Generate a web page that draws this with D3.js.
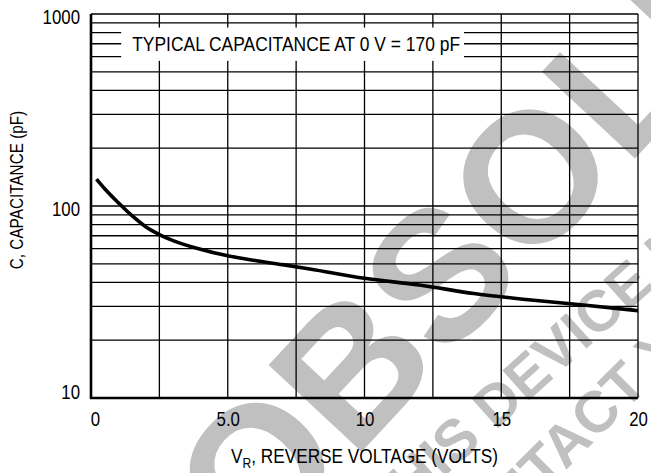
<!DOCTYPE html>
<html>
<head>
<meta charset="utf-8">
<script src="https://cdn.jsdelivr.net/npm/d3@7"></script>
<style>
    body { margin: 0; background: #ffffff; }
    svg { display: block; }
    text { font-family: "Liberation Sans", Arial, sans-serif; fill: #000; }
</style>
</head>
<body>
<svg class="chart"></svg>
<script>
// reverse voltage (V) and capacitance (pF)
var voltage = [0.2, 0.5, 1, 1.5, 2, 2.5, 3, 4, 5, 6, 7, 8, 10, 12, 14, 16, 18, 20];
var capacitance = [138, 123, 104, 89, 78, 71, 66, 59.5, 55, 52, 49.5, 47, 42, 38.8, 35, 32.5, 30.5, 28.5];

var xTicks = [0, 5, 10, 15, 20];
var xTickLabels = ["0", "5.0", "10", "15", "20"];
var xGrid = [0, 2.5, 5, 7.5, 10, 12.5, 15, 17.5, 20];
var yTicks = [10, 100, 1000];
var yTickLabels = ["10", "100", "1000"];

var note = "TYPICAL CAPACITANCE AT 0 V = 170 pF";
var watermark = ["OBSOLETE", "THIS DEVICE IS NOT RECOMMENDED", "CONTACT YOUR SALES OFFICE"];

var outerSize = {width: 651, height: 473};
var margin = {top: 14, right: 13, bottom: 75, left: 91};
var innerSize = {width: outerSize.width - margin.left - margin.right,
    height: outerSize.height - margin.top - margin.bottom};

// squeeze Liberation Sans into a condensed look
function condense(selection, factor) {
    selection.each(function () {
        var len = this.getComputedTextLength();
        d3.select(this)
                .attr("textLength", len * factor)
                .attr("lengthAdjust", "spacingAndGlyphs");
    });
}

var svg = d3.select(".chart")
        .attr("width", outerSize.width)
        .attr("height", outerSize.height);

// grey watermark sits behind everything
var wm = svg.append("g")
        .attr("class", "watermark")
        .style("font-weight", "bold")
        .style("fill", "#c0c0c0");
wm.append("text")
        .attr("transform", "translate(255,566) rotate(-47)")
        .style("font-size", "185px")
        .style("fill", "#c0c0c0")
        .text(watermark[0]);
wm.append("text")
        .attr("transform", "translate(385,530) rotate(-42)")
        .style("font-size", "58px")
        .style("fill", "#c0c0c0")
        .text(watermark[1]);
wm.append("text")
        .attr("transform", "translate(452,584) rotate(-45)")
        .style("font-size", "58px")
        .style("fill", "#c0c0c0")
        .text(watermark[2]);

var chart = svg.append("g")
        .attr("transform", "translate(" + margin.left + "," + margin.top + ")");

var xRange = d3.scaleLinear()
        .domain([0, 20])
        .range([0, innerSize.width]);
var yRange = d3.scaleLog()
        .domain([10, 1000])
        .range([innerSize.height, 0]);

// grid
chart.append("g")
        .attr("class", "grid")
        .selectAll("line")
        .data(yRange.ticks())
        .enter().append("line")
        .attr("x1", 0)
        .attr("x2", innerSize.width)
        .attr("y1", function (d) { return yRange(d); })
        .attr("y2", function (d) { return yRange(d); })
        .attr("stroke", "#000")
        .attr("stroke-width", 1.3);
chart.append("g")
        .attr("class", "grid")
        .selectAll("line")
        .data(xGrid)
        .enter().append("line")
        .attr("x1", function (d) { return xRange(d); })
        .attr("x2", function (d) { return xRange(d); })
        .attr("y1", 0)
        .attr("y2", innerSize.height)
        .attr("stroke", "#000")
        .attr("stroke-width", 1.3);

// note with a white box cutting the grid
var noteGroup = chart.append("g");
var noteBox = noteGroup.append("rect").attr("fill", "#fff");
var noteText = noteGroup.append("text")
        .attr("x", xRange(7.5))
        .attr("y", yRange(700) + 7)
        .style("text-anchor", "middle")
        .style("font-size", "20.5px")
        .text(note)
        .call(condense, 0.85);
var bb = noteText.node().getBBox();
noteBox.attr("x", bb.x - 11)
        .attr("y", yRange(850))
        .attr("width", bb.width + 15)
        .attr("height", yRange(570) - yRange(850));

// heavy left and bottom axis lines
chart.append("line")
        .attr("x1", 0).attr("x2", 0)
        .attr("y1", 0).attr("y2", innerSize.height + 1)
        .attr("stroke", "#000").attr("stroke-width", 2.6);
chart.append("line")
        .attr("x1", -1).attr("x2", innerSize.width)
        .attr("y1", innerSize.height).attr("y2", innerSize.height)
        .attr("stroke", "#000").attr("stroke-width", 2.6);

// curve
var points = voltage.map(function (v, i) { return [v, capacitance[i]]; });
chart.append("path")
        .datum(points)
        .attr("fill", "none")
        .attr("stroke", "#000")
        .attr("stroke-width", 3.6)
        .attr("d", d3.line()
                .curve(d3.curveMonotoneX)
                .x(function (d) { return xRange(d[0]); })
                .y(function (d) { return yRange(d[1]); }));

// axes labels
var xAxis = d3.axisBottom(xRange)
        .tickValues(xTicks)
        .tickSize(0)
        .tickPadding(14)
        .tickFormat(function (d, i) { return xTickLabels[i]; });
chart.append("g")
        .attr("class", "x axis")
        .attr("transform", "translate(0," + innerSize.height + ")")
        .attr("font-family", null)
        .attr("font-size", null)
        .call(xAxis)
        .call(function (g) { g.select(".domain").remove(); })
        .selectAll("text")
        .style("font-size", "20px")
        .attr("x", function (d, i) { return i === 0 ? 4 : 0; })
        .call(condense, 0.84);

var yOffsets = [-6, 3, 3.5];
var yAxis = d3.axisLeft(yRange)
        .tickValues(yTicks)
        .tickSize(0)
        .tickPadding(11)
        .tickFormat(function (d, i) { return yTickLabels[i]; });
chart.append("g")
        .attr("class", "y axis")
        .attr("font-family", null)
        .attr("font-size", null)
        .call(yAxis)
        .call(function (g) { g.select(".domain").remove(); })
        .selectAll("text")
        .style("font-size", "20px")
        .attr("y", function (d, i) { return yOffsets[i]; })
        .call(condense, 0.84);

var xTitle = chart.append("text")
        .attr("x", innerSize.width / 2)
        .attr("y", innerSize.height + 65)
        .style("text-anchor", "middle")
        .style("font-size", "20px");
xTitle.append("tspan").text("V");
xTitle.append("tspan").attr("dy", 5).style("font-size", "14px").text("R");
xTitle.append("tspan").attr("dy", -5).text(", REVERSE VOLTAGE (VOLTS)");
condense(xTitle, 0.86);

chart.append("text")
        .attr("transform", "rotate(-90)")
        .attr("x", -190 + margin.top)
        .attr("y", 23 - margin.left)
        .style("text-anchor", "middle")
        .style("font-size", "18px")
        .text("C, CAPACITANCE (pF)")
        .call(condense, 0.85);
</script>
</body>
</html>
